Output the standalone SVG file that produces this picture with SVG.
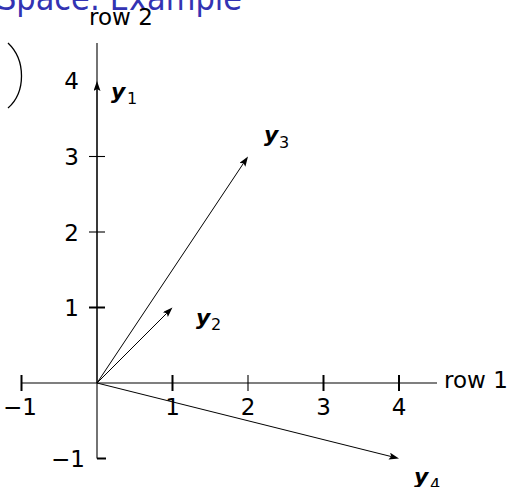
<svg xmlns="http://www.w3.org/2000/svg" width="518" height="487" viewBox="0 0 518 487">
<style>
.lbl{font-family:"DejaVu Sans","Liberation Sans",sans-serif;font-size:23px;fill:#000}
.vec{font-family:"DejaVu Sans","Liberation Sans",sans-serif;font-size:22px;font-weight:bold;font-style:italic;fill:#000}
.sub{font-family:"DejaVu Sans","Liberation Sans",sans-serif;font-size:16px;fill:#000}
.axis{stroke:#000;stroke-width:1.1;fill:none}
.tk{stroke:#000;stroke-width:2;fill:none}
.tkt{stroke:#000;stroke-width:1.1;fill:none}
.v{stroke:#000;stroke-width:1;fill:none;marker-end:url(#ah)}
.title{font-family:"DejaVu Sans","Liberation Sans",sans-serif;font-size:34px;fill:#3333B3}
</style>
<defs>
<marker id="ah" markerUnits="userSpaceOnUse" markerWidth="11" markerHeight="8" refX="2" refY="3.5" orient="auto">
<path d="M0,0 L10,3.5 L0,7 L2,3.5 z" fill="#000"/>
</marker>
</defs>
<rect width="518" height="487" fill="#fff"/>
<text class="title" x="-3" y="10" textLength="245" lengthAdjust="spacingAndGlyphs">Space:  Example</text>
<path d="M8,43 C26,60 26,92 8,108" stroke="#000" stroke-width="1.3" fill="none"/>
<g id="axes">
<line class="axis" x1="21.5" y1="383" x2="437" y2="383"/>
<line class="axis" x1="97" y1="458.5" x2="97" y2="43"/>
<line class="tk" x1="21.5" y1="375" x2="21.5" y2="391"/>
<line class="tk" x1="172.5" y1="375" x2="172.5" y2="391"/>
<line class="tkt" x1="248" y1="375" x2="248" y2="391"/>
<line class="tk" x1="323.5" y1="375" x2="323.5" y2="391"/>
<line class="tk" x1="399" y1="375" x2="399" y2="391"/>
<line class="tk" x1="89" y1="307.5" x2="105" y2="307.5"/>
<line class="tkt" x1="89" y1="232" x2="105" y2="232"/>
<line class="tkt" x1="89" y1="156.5" x2="105" y2="156.5"/>
<line class="tk" x1="97" y1="458.5" x2="106" y2="458.5"/>
<text class="lbl" x="20" y="415" text-anchor="middle">−1</text>
<text class="lbl" x="172.5" y="415" text-anchor="middle">1</text>
<text class="lbl" x="248" y="415" text-anchor="middle">2</text>
<text class="lbl" x="323.5" y="415" text-anchor="middle">3</text>
<text class="lbl" x="399" y="415" text-anchor="middle">4</text>
<text class="lbl" x="85" y="467" text-anchor="end">−1</text>
<text class="lbl" x="79" y="316" text-anchor="end">1</text>
<text class="lbl" x="79" y="240.5" text-anchor="end">2</text>
<text class="lbl" x="79" y="165" text-anchor="end">3</text>
<text class="lbl" x="79" y="89" text-anchor="end">4</text>
<text class="lbl" x="444" y="388">row 1</text>
<text class="lbl" x="89" y="25">row 2</text>
</g>
<g id="connectors">
<line class="v" x1="97" y1="383" x2="97" y2="89" stroke-width="2.6"/>
<line class="v" x1="97" y1="383" x2="166.8" y2="313.2"/>
<line class="v" x1="97" y1="383" x2="243.56" y2="163.16"/>
<line class="v" x1="97" y1="383" x2="391.24" y2="456.56"/>
</g>
<g id="y1"><text class="vec" x="111" y="99">y</text><text class="sub" x="127" y="104">1</text></g>
<g id="y2"><text class="vec" x="196" y="325">y</text><text class="sub" x="211" y="330">2</text></g>
<g id="y3"><text class="vec" x="264" y="142">y</text><text class="sub" x="279" y="148">3</text></g>
<g id="y4"><text class="vec" x="414" y="484">y</text><text class="sub" x="430" y="490">4</text></g>
</svg>
